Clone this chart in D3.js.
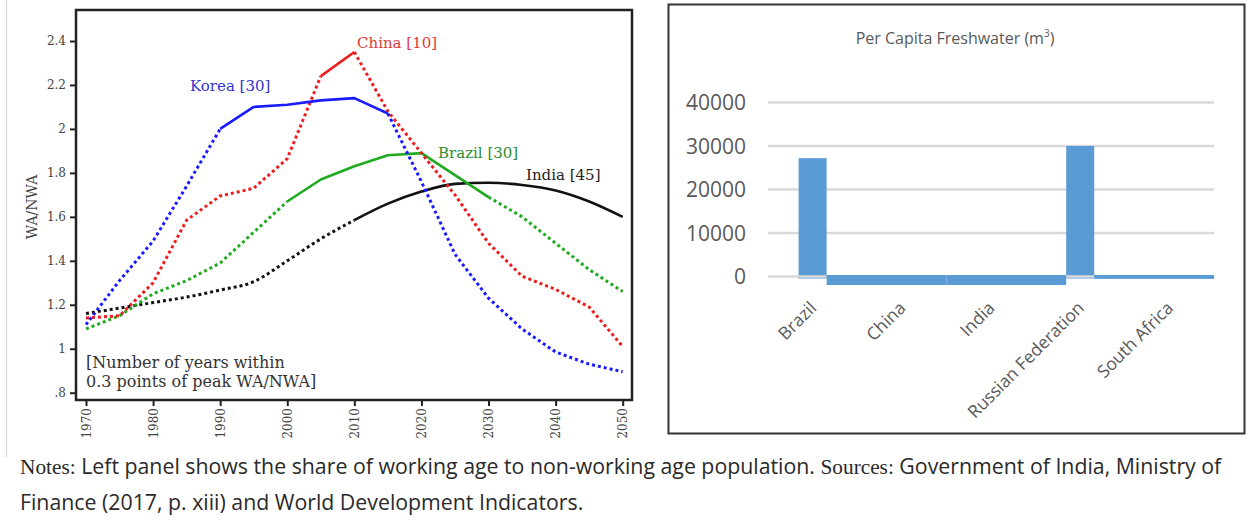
<!DOCTYPE html>
<html>
<head>
<meta charset="utf-8">
<script src="https://cdn.jsdelivr.net/npm/d3@7/dist/d3.min.js"></script>
<style>
  html, body { margin: 0; padding: 0; background: #fff; }
  svg { display: block; }
</style>
</head>
<body>
<svg id="chart" width="1249" height="522"></svg>
<script>
// ---------- Left panel data ----------
const years = [1970,1975,1980,1985,1990,1995,2000,2005,2010,2015,2020,2025,2030,2035,2040,2045,2050];
const korea  = [1.11,1.31,1.49,1.74,2.00,2.10,2.11,2.13,2.14,2.07,1.76,1.43,1.23,1.09,0.985,0.93,0.895];
const china  = [1.14,1.15,1.30,1.585,1.695,1.73,1.865,2.24,2.35,2.08,1.89,1.70,1.48,1.33,1.27,1.19,1.01];
const brazil = [1.09,1.15,1.25,1.31,1.39,1.53,1.67,1.77,1.83,1.88,1.89,1.79,1.69,1.60,1.48,1.36,1.26];
const india  = [1.16,1.185,1.21,1.235,1.267,1.305,1.40,1.50,1.585,1.66,1.715,1.75,1.755,1.745,1.72,1.67,1.60];
const koreaSolid  = [1990, 2015];
const chinaSolid  = [2005, 2010];
const brazilSolid = [2000, 2030];
const indiaSolid  = [2010, 2050];
const seriesLabels = ["Korea [30]", "China [10]", "Brazil [30]", "India [45]"];
const yTickValues = [0.8,1.0,1.2,1.4,1.6,1.8,2.0,2.2,2.4];
const yTickLabels = [".8","1","1.2","1.4","1.6","1.8","2","2.2","2.4"];
const xTickValues = [1970,1980,1990,2000,2010,2020,2030,2040,2050];
const noteLines = ["[Number of years within", "0.3 points of peak WA/NWA]"];

// ---------- Right panel data ----------
const countries = ["Brazil","China","India","Russian Federation","South Africa"];
const freshwater = [27200, 2300, 2300, 30000, 900];
const fwTicks = [0,10000,20000,30000,40000];

const svg = d3.select("#chart");

// faint outer border on the left
svg.append("line").attr("x1",6.5).attr("x2",6.5).attr("y1",0).attr("y2",457)
  .attr("stroke","#d6d6d6").attr("stroke-width",1);

// ================= LEFT PANEL =================
const serif = "'DejaVu Serif', serif";
const x = d3.scaleLinear().domain([1970,2050]).range([86,622.7]);
const y = d3.scaleLinear().domain([0.8,2.4]).range([392.7,41]);

const L = svg.append("g");
L.append("rect").attr("x",76).attr("y",10).attr("width",556).attr("height",390)
  .attr("fill","none").attr("stroke","#222").attr("stroke-width",2.5);

const yAxis = d3.axisLeft(y).tickValues(yTickValues).tickSize(6).tickPadding(4)
  .tickFormat((d,i)=>yTickLabels[i]);
const gy = L.append("g").attr("transform","translate(76,0)").call(yAxis);
gy.select(".domain").remove();
gy.selectAll(".tick line").attr("stroke","#222").attr("stroke-width",2);
gy.selectAll(".tick text").attr("font-family",serif).attr("font-size",12).attr("fill","#444");

const xAxis = d3.axisBottom(x).tickValues(xTickValues).tickSize(6).tickFormat(d3.format("d"));
const gx = L.append("g").attr("transform","translate(0,400)").call(xAxis);
gx.select(".domain").remove();
gx.selectAll(".tick line").attr("stroke","#222").attr("stroke-width",2);
gx.selectAll(".tick text")
  .attr("font-family",serif).attr("font-size",12).attr("fill","#444")
  .attr("transform","rotate(-90)").attr("text-anchor","end")
  .attr("x",-8).attr("y",0).attr("dy","0.35em");

L.append("text").attr("transform","translate(37,207) rotate(-90)")
  .attr("text-anchor","middle").attr("font-family",serif).attr("font-size",14)
  .attr("fill","#444").text("WA/NWA");

const seriesData = [
  {vals: korea,  solid: koreaSolid,  color: "#1a1aff", tcolor: "#3434d0", label: seriesLabels[0], lx: 190, ly: 91, curve: d3.curveLinear},
  {vals: china,  solid: chinaSolid,  color: "#ee1c1c", tcolor: "#e23a3a", label: seriesLabels[1], lx: 357, ly: 48, curve: d3.curveLinear},
  {vals: brazil, solid: brazilSolid, color: "#1faa1f", tcolor: "#2e8c2e", label: seriesLabels[2], lx: 438, ly: 158, curve: d3.curveLinear},
  {vals: india,  solid: indiaSolid,  color: "#111111", tcolor: "#222",    label: seriesLabels[3], lx: 526, ly: 180, curve: d3.curveMonotoneX}
];

// draw in order: india, brazil, china, korea (korea on top like reference)
[3,2,1,0].forEach(i=>{
  const s = seriesData[i];
  const line = d3.line().x(d=>x(d[0])).y(d=>y(d[1])).curve(s.curve);
  const pts = years.map((yr,j)=>[yr, s.vals[j]]);
  const pre  = pts.filter(p=>p[0] <= s.solid[0]);
  const mid  = pts.filter(p=>p[0] >= s.solid[0] && p[0] <= s.solid[1]);
  const post = pts.filter(p=>p[0] >= s.solid[1]);
  [pre, post].forEach(seg=>{
    if (seg.length > 1) L.append("path").attr("d", line(seg)).attr("fill","none")
      .attr("stroke", s.color).attr("stroke-width", 3).attr("stroke-dasharray","3 3");
  });
  if (mid.length > 1) L.append("path").attr("d", line(mid)).attr("fill","none")
    .attr("stroke", s.color).attr("stroke-width", 2.6).attr("stroke-linejoin","round");
});
seriesData.forEach(s=>{
  L.append("text").attr("x", s.lx).attr("y", s.ly).attr("font-family", serif)
    .attr("font-size", 15).attr("fill", s.tcolor).text(s.label);
});
noteLines.forEach((t,i)=>{
  L.append("text").attr("x", 86).attr("y", 368 + i*18.5).attr("font-family", serif)
    .attr("font-size", 16).attr("fill", "#333").text(t);
});

// ================= RIGHT PANEL =================
const sans = "'Open Sans', sans-serif";
const R = svg.append("g");
R.append("rect").attr("x",668.5).attr("y",4.5).attr("width",576).attr("height",429)
  .attr("fill","none").attr("stroke","#333").attr("stroke-width",2);

const t = R.append("text").attr("x",955).attr("y",44).attr("text-anchor","middle")
  .attr("font-family",sans).attr("font-size",16).attr("fill","#595959");
t.append("tspan").text("Per Capita Freshwater (m");
t.append("tspan").attr("font-size",10).attr("dy",-7).text("3");
t.append("tspan").attr("dy",7).text(")");

const xb = d3.scaleBand().domain(countries).range([768,1214]).padding(0);
const yb = d3.scaleLinear().domain([0,40000]).range([276.5,102.5]);

// grid lines (except zero)
R.selectAll(".grid").data(fwTicks.filter(d=>d>0)).enter().append("line")
  .attr("x1",768).attr("x2",1214).attr("y1",d=>yb(d)).attr("y2",d=>yb(d))
  .attr("stroke","#d9d9d9").attr("stroke-width",2.5);
R.selectAll(".ytl").data(fwTicks).enter().append("text")
  .attr("x",746).attr("y",d=>yb(d)+7.5).attr("text-anchor","end")
  .attr("font-family",sans).attr("font-size",21).attr("fill","#595959")
  .text(d=>d);

// bars: large bars are narrow, small bars stretch between neighbours (as in reference)
const bigFrac = 0.314;
const isBig = v => v > 5000;
const bars = countries.map((c,i)=>({c, v: freshwater[i]}));
bars.forEach((b,i)=>{
  const cx = xb(b.c) + xb.bandwidth()/2;
  if (isBig(b.v)) { b.x0 = cx - xb.bandwidth()*bigFrac/2; b.x1 = cx + xb.bandwidth()*bigFrac/2; }
});
bars.forEach((b,i)=>{
  if (!isBig(b.v)) {
    const prev = bars[i-1], next = bars[i+1];
    b.x0 = prev ? (isBig(prev.v) ? prev.x1 : xb(b.c)) : xb(b.c);
    b.x1 = next ? (isBig(next.v) ? next.x0 : xb(b.c)+xb.bandwidth()) : xb.range()[1];
  }
});
const bigBars = bars.filter(b=>isBig(b.v));
const smallBars = bars.filter(b=>!isBig(b.v));
R.selectAll(".bigbar").data(bigBars).enter().append("rect")
  .attr("x",d=>d.x0).attr("width",d=>d.x1-d.x0)
  .attr("y",d=>yb(d.v)).attr("height",d=>yb(0)-yb(d.v)+2)
  .attr("fill","#5b9bd5");
// zero line
R.append("line").attr("x1",768).attr("x2",1214).attr("y1",yb(0)).attr("y2",yb(0))
  .attr("stroke","#d9d9d9").attr("stroke-width",2.5);
R.selectAll(".smallbar").data(smallBars).enter().append("rect")
  .attr("x",d=>d.x0).attr("width",d=>d.x1-d.x0)
  .attr("y",yb(0)-1.5).attr("height",d=>yb(0)-yb(d.v))
  .attr("fill","#5b9bd5");

R.selectAll(".catl").data(countries).enter().append("text")
  .attr("transform",d=>`translate(${xb(d)+xb.bandwidth()/2+5},309) rotate(-45)`)
  .attr("text-anchor","end").attr("font-family",sans).attr("font-size",17.5)
  .attr("fill","#595959").text(d=>d);

// ================= NOTES =================
const notesSerif = "'Liberation Serif', serif";
const n1 = svg.append("text").attr("x",20).attr("y",474).attr("font-family",sans)
  .attr("font-size",17).attr("fill","#2a2a2a");
n1.append("tspan").attr("font-family",notesSerif).text("Notes:");
n1.append("tspan").text(" Left panel shows the share of working age to non-working age population. ");
n1.append("tspan").attr("font-family",notesSerif).text("Sources:");
n1.append("tspan").text(" Government of India, Ministry of");
const n2 = svg.append("text").attr("x",20).attr("y",510).attr("font-family",sans)
  .attr("font-size",17).attr("fill","#2a2a2a")
  .text("Finance (2017, p. xiii) and World Development Indicators.");
// fit the notes to the reference line width
const len = n1.node().getComputedTextLength();
const fs = 17 * 1202 / len;
n1.attr("font-size", fs); n2.attr("font-size", fs);
</script>
</body>
</html>
